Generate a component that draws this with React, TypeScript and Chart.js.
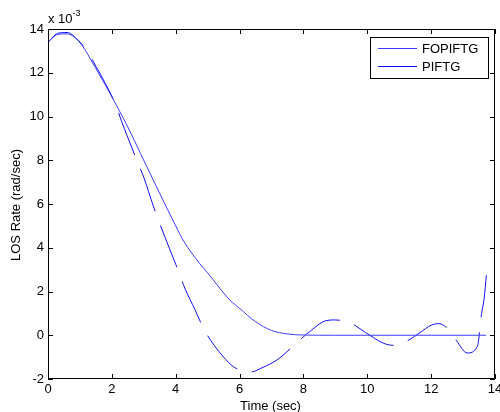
import React, { useEffect, useRef } from 'react';
import { Chart, registerables } from 'chart.js';
Chart.register(...registerables);

// FOPIFTG (solid) — time in sec, LOS rate in 1e-3 rad/sec
const timeFOPIFTG = [0, 0.3, 0.6, 0.85, 1.1, 1.4, 1.7, 2.0, 2.25, 2.5, 2.9, 3.5, 4.0, 4.25, 4.75, 5.0, 5.7, 6.0, 6.5, 7.0, 7.5, 8.0, 9.0, 10.0, 11.0, 12.0, 13.0, 13.72];
const rateFOPIFTG = [13.4, 13.75, 13.78, 13.6, 13.18, 12.45, 11.69, 10.9, 10.22, 9.52, 8.3, 6.48, 5.0, 4.3, 3.28, 2.85, 1.6, 1.23, 0.62, 0.22, 0.06, 0.01, 0, 0, 0, 0, 0, 0];

// PIFTG (dashed)
const timePIFTG = [0, 0.3, 0.6, 0.9, 1.2, 1.5, 1.8, 2.1, 2.3, 2.5, 2.8, 3.0, 3.3, 3.6, 4.0, 4.3, 4.6, 4.9, 5.2, 5.5, 5.8, 6.1, 6.35, 6.7, 7.2, 7.85, 8.25, 8.65, 9.0, 9.5, 9.95, 10.5, 10.8, 11.2, 11.65, 12.0, 12.25, 12.55, 12.8, 13.13, 13.45, 13.58, 13.66, 13.73];
const ratePIFTG = [13.4, 13.8, 13.84, 13.55, 13.05, 12.3, 11.5, 10.6, 9.8, 9.04, 7.93, 7.22, 5.9, 4.72, 3.25, 2.1, 1.18, 0.23, -0.45, -1.0, -1.43, -1.62, -1.68, -1.49, -1.1, -0.26, 0.23, 0.64, 0.7, 0.54, 0.12, -0.36, -0.46, -0.3, 0.12, 0.46, 0.53, 0.25, -0.26, -0.81, -0.5, 0.99, 1.68, 2.74];

const seriesNames = ['FOPIFTG', 'PIFTG'];
const seriesColors = ['#3c3cff', '#1010f0'];
const xTicks = [0, 2, 4, 6, 8, 10, 12, 14];
const yTicks = [-2, 0, 2, 4, 6, 8, 10, 12, 14];
const xTitle = 'Time (sec)';
const yTitle = 'LOS Rate (rad/sec)';
const FONT = '"Liberation Sans", Arial, sans-serif';

const decorPlugin = {
  id: 'decor',
  afterDraw(chart: any) {
    const ctx = chart.ctx as CanvasRenderingContext2D;
    const { left, right, top, bottom } = chart.chartArea;
    const xs = chart.scales.x;
    const ys = chart.scales.y;
    ctx.save();
    ctx.strokeStyle = '#000';
    ctx.lineWidth = 1;
    // frame
    ctx.beginPath();
    ctx.rect(left + 0.5, top + 0.5, right - left - 1, bottom - top - 1);
    ctx.stroke();
    // inward ticks
    ctx.beginPath();
    for (const v of xTicks) {
      const px = Math.round(xs.getPixelForValue(v)) + 0.5;
      ctx.moveTo(px, bottom);
      ctx.lineTo(px, bottom - 5);
      ctx.moveTo(px, top);
      ctx.lineTo(px, top + 5);
    }
    for (const v of yTicks) {
      const py = Math.round(ys.getPixelForValue(v)) + 0.5;
      ctx.moveTo(left, py);
      ctx.lineTo(left + 5, py);
      ctx.moveTo(right, py);
      ctx.lineTo(right - 5, py);
    }
    ctx.stroke();

    ctx.fillStyle = '#000';
    // exponent label
    ctx.font = `13px ${FONT}`;
    ctx.textAlign = 'left';
    ctx.textBaseline = 'alphabetic';
    ctx.fillText('x 10', left, 23);
    const w = ctx.measureText('x 10').width;
    ctx.font = `9px ${FONT}`;
    ctx.fillText('-3', left + w, 16);

    // axis titles
    ctx.font = `13px ${FONT}`;
    ctx.textAlign = 'center';
    ctx.fillText(xTitle, (left + right) / 2 - 1, 410);
    ctx.save();
    ctx.translate(20, 205);
    ctx.rotate(-Math.PI / 2);
    ctx.textBaseline = 'alphabetic';
    ctx.fillText(yTitle, 0, 0);
    ctx.restore();

    // legend
    const lx = 370, ly = 37, lw = 118, lh = 41;
    ctx.fillStyle = '#fff';
    ctx.fillRect(lx, ly, lw, lh);
    ctx.strokeStyle = '#000';
    ctx.strokeRect(lx + 0.5, ly + 0.5, lw, lh);
    const rows = [48.5, 66.5];
    seriesNames.forEach((name, i) => {
      ctx.strokeStyle = seriesColors[i];
      ctx.beginPath();
      ctx.moveTo(378, rows[i]);
      ctx.lineTo(417, rows[i]);
      ctx.stroke();
      ctx.fillStyle = '#000';
      ctx.font = `13px ${FONT}`;
      ctx.textAlign = 'left';
      ctx.textBaseline = 'middle';
      ctx.fillText(name, 422, rows[i] + 0.5);
    });
    ctx.restore();
  },
};

export default function App() {
  const ref = useRef<HTMLCanvasElement>(null);
  useEffect(() => {
    if (!ref.current) return;
    const chart = new Chart(ref.current, {
      type: 'line',
      data: {
        datasets: [
          {
            label: seriesNames[0],
            data: timeFOPIFTG.map((t, i) => ({ x: t, y: rateFOPIFTG[i] })),
            borderColor: seriesColors[0],
            borderWidth: 1,
            pointRadius: 0,
            cubicInterpolationMode: 'monotone',
            fill: false,
          },
          {
            label: seriesNames[1],
            data: timePIFTG.map((t, i) => ({ x: t, y: ratePIFTG[i] })),
            borderColor: seriesColors[1],
            borderWidth: 1,
            borderDash: [45, 15],
            pointRadius: 0,
            cubicInterpolationMode: 'monotone',
            fill: false,
          },
        ],
      },
      options: {
        responsive: false,
        animation: false,
        devicePixelRatio: 1,
        layout: { padding: { top: 29, right: 5, left: 0, bottom: 0 } },
        plugins: { legend: { display: false }, tooltip: { enabled: false } },
        scales: {
          x: {
            type: 'linear',
            min: 0,
            max: 14,
            grid: { display: false, drawTicks: false },
            border: { display: false },
            ticks: {
              stepSize: 2,
              autoSkip: false,
              maxRotation: 0,
              padding: 3,
              color: '#000',
              font: { family: FONT, size: 13 },
            },
            afterFit: (s: any) => {
              s.height = 33;
              s.paddingLeft = 0;
              s.paddingRight = 0;
            },
          },
          y: {
            type: 'linear',
            min: -2,
            max: 14,
            grid: { display: false, drawTicks: false },
            border: { display: false },
            ticks: {
              stepSize: 2,
              autoSkip: false,
              padding: 4,
              color: '#000',
              font: { family: FONT, size: 13 },
            },
            afterFit: (s: any) => {
              s.width = 48;
              s.paddingTop = 0;
              s.paddingBottom = 0;
            },
          },
        },
      },
      plugins: [decorPlugin],
    });
    return () => chart.destroy();
  }, []);
  return (
    <div style={{ position: 'absolute', left: 0, top: 0, width: 500, height: 412, background: '#fff' }}>
      <canvas ref={ref} width={500} height={412} />
    </div>
  );
}
